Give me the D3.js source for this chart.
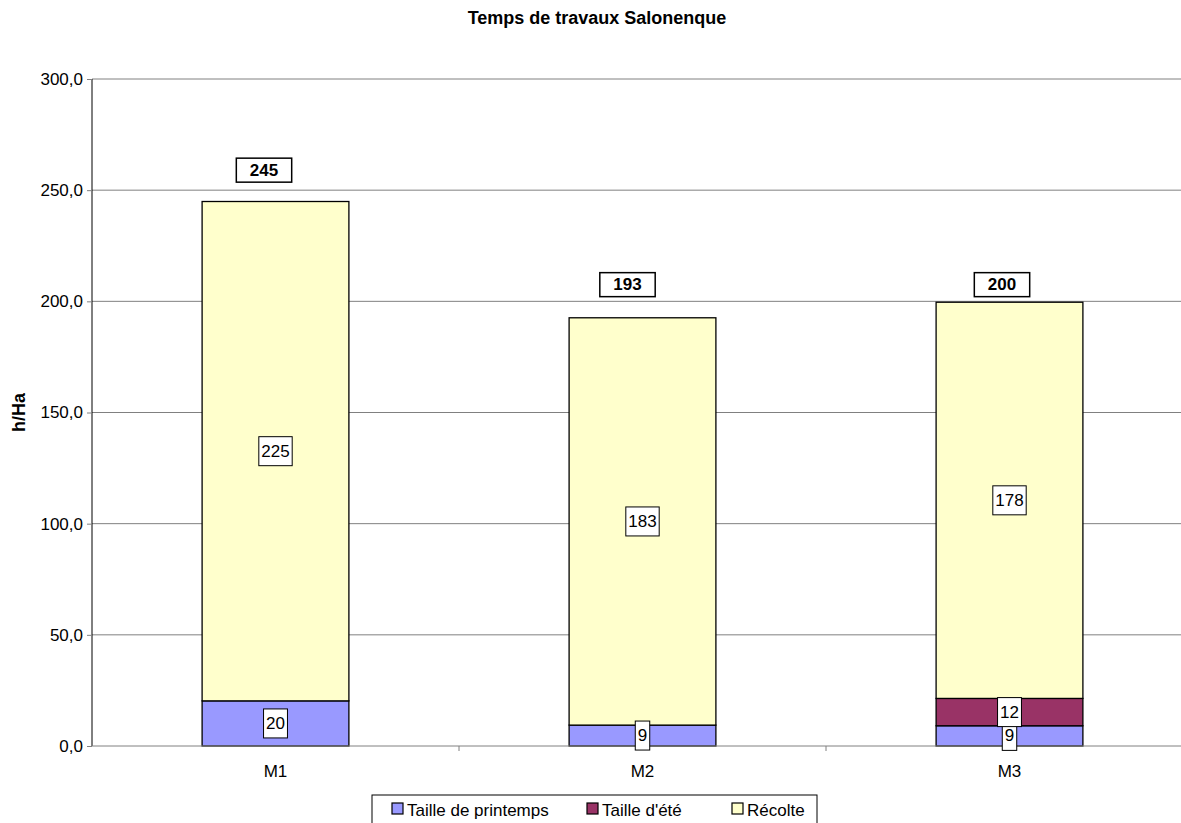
<!DOCTYPE html>
<html>
<head>
<meta charset="utf-8">
<script src="https://cdn.jsdelivr.net/npm/d3@7"></script>
<style>
  body { margin: 0; background: #fff; }
  svg { font-family: Arial, "Liberation Sans", sans-serif; }
</style>
</head>
<body>
<svg id="drawing_region"></svg>
<script>
// data
const categories = ['M1', 'M2', 'M3'];
const seriesNames = ['Taille de printemps', "Taille d'été", 'Récolte'];
const seriesColors = ['#9999FF', '#993366', '#FFFFCC'];
const printemps = [20.3, 9.4, 9.1];
const ete = [0, 0, 12.3];
const recolte = [224.6, 183.2, 178.2];
const yTicks = [0, 50, 100, 150, 200, 250, 300];

// where the total labels sit (value units) and their sideways shift (px)
const totalLabelAt = [259, 207.5, 207.5];
const totalLabelDx = [-11.5, -15, -7.5];

const width = 1181, height = 823;
const margin = {top: 79, left: 92};
const innerW = 1101, innerH = 667;

const svg = d3.select('#drawing_region')
    .attr('width', width)
    .attr('height', height);

const rows = categories.map((c, i) => ({
    cat: c,
    [seriesNames[0]]: printemps[i],
    [seriesNames[1]]: ete[i],
    [seriesNames[2]]: recolte[i]
}));

const stack = d3.stack().keys(seriesNames)(rows);

const xscale = d3.scaleBand()
    .domain(categories)
    .range([0, innerW])
    .paddingInner(0.6)
    .paddingOuter(0.3);

const yscale = d3.scaleLinear()
    .domain([0, 300])
    .range([innerH, 0]);

const chart = svg.append('g')
    .attr('transform', `translate(${margin.left}, ${margin.top})`);

// gridlines
chart.append('g')
    .selectAll('line')
    .data(yTicks.filter(d => d > 0))
    .join('line')
    .attr('x1', 0).attr('x2', innerW)
    .attr('y1', d => yscale(d)).attr('y2', d => yscale(d))
    .attr('stroke', '#808080')
    .attr('stroke-width', 1);

// bars
stack.forEach((layer, k) => {
    chart.append('g')
        .selectAll('rect')
        .data(layer.filter(d => d[1] - d[0] > 0))
        .join('rect')
        .attr('x', d => xscale(d.data.cat))
        .attr('y', d => yscale(d[1]))
        .attr('width', xscale.bandwidth())
        .attr('height', d => yscale(d[0]) - yscale(d[1]))
        .attr('fill', seriesColors[k])
        .attr('stroke', '#000')
        .attr('stroke-width', 1.3);
});

// y axis
const yaxis = d3.axisLeft(yscale)
    .tickValues(yTicks)
    .tickSize(5)
    .tickFormat(d => d3.format('.1f')(d).replace('.', ','));

const yg = chart.append('g').call(yaxis);
yg.select('.domain').attr('stroke', '#000').attr('d', `M0,0V${innerH}`);
yg.selectAll('.tick line').attr('stroke', '#808080');
yg.selectAll('.tick text')
    .attr('font-size', '17px')
    .attr('font-family', 'Arial, "Liberation Sans", sans-serif')
    .attr('fill', '#000')
    .attr('x', -9);

// x axis
const xg = chart.append('g')
    .attr('transform', `translate(0, ${innerH})`);
xg.append('line')
    .attr('x1', 0).attr('x2', innerW)
    .attr('stroke', '#808080');
const step = xscale.step();
xg.selectAll('.sep')
    .data(categories.slice(1))
    .join('line')
    .attr('class', 'sep')
    .attr('x1', (d, i) => step * (i + 1))
    .attr('x2', (d, i) => step * (i + 1))
    .attr('y1', 0).attr('y2', 5)
    .attr('stroke', '#808080');
xg.selectAll('text')
    .data(categories)
    .join('text')
    .attr('x', d => xscale(d) + xscale.bandwidth() / 2)
    .attr('y', 31)
    .attr('text-anchor', 'middle')
    .attr('font-size', '17px')
    .text(d => d);

// boxed labels
function boxLabel(g, cx, cy, txt, bold) {
    const t = g.append('text')
        .attr('x', cx).attr('y', cy)
        .attr('text-anchor', 'middle')
        .attr('dominant-baseline', 'central')
        .attr('font-size', '17px')
        .attr('font-weight', bold ? 'bold' : 'normal')
        .text(txt);
    const bb = t.node().getBBox();
    const padX = bold ? 13.5 : 2.5, padY = bold ? 2.5 : 5;
    g.insert('rect', () => t.node())
        .attr('x', bb.x - padX)
        .attr('y', bb.y - padY)
        .attr('width', bb.width + 2 * padX)
        .attr('height', bb.height + 2 * padY)
        .attr('fill', '#fff')
        .attr('stroke', '#000')
        .attr('stroke-width', bold ? 1.5 : 1);
}

const labels = chart.append('g');
stack.forEach(layer => {
    layer.forEach(d => {
        const v = d[1] - d[0];
        if (v <= 0) return;
        const cx = xscale(d.data.cat) + xscale.bandwidth() / 2;
        const cy = (yscale(d[0]) + yscale(d[1])) / 2;
        boxLabel(labels.append('g'), cx, cy, d3.format('.0f')(v), false);
    });
});

// totals
const totals = categories.map((c, i) => printemps[i] + ete[i] + recolte[i]);
totals.forEach((t, i) => {
    const cx = xscale(categories[i]) + xscale.bandwidth() / 2 + totalLabelDx[i];
    boxLabel(labels.append('g'), cx, yscale(totalLabelAt[i]), d3.format('.0f')(t), true);
});

// title
svg.append('text')
    .attr('x', 597)
    .attr('y', 24)
    .attr('text-anchor', 'middle')
    .attr('font-size', '18px')
    .attr('font-weight', 'bold')
    .text('Temps de travaux Salonenque');

// y label
svg.append('text')
    .attr('transform', `translate(25, ${margin.top + innerH / 2}) rotate(-90)`)
    .attr('text-anchor', 'middle')
    .attr('font-size', '18px')
    .attr('font-weight', 'bold')
    .text('h/Ha');

// legend
const legend = svg.append('g').attr('transform', 'translate(372, 795)');
legend.append('rect')
    .attr('x', 0).attr('y', 0)
    .attr('width', 445).attr('height', 40)
    .attr('fill', '#fff')
    .attr('stroke', '#000');
const legX = [20, 215, 360];
seriesNames.forEach((name, k) => {
    const g = legend.append('g').attr('transform', `translate(${legX[k]}, 0)`);
    g.append('rect')
        .attr('x', 0).attr('y', 8)
        .attr('width', 11).attr('height', 11)
        .attr('fill', seriesColors[k])
        .attr('stroke', '#000')
        .attr('stroke-width', 1.2);
    g.append('text')
        .attr('x', 15).attr('y', 21)
        .attr('font-size', '17px')
        .text(name);
});
</script>
</body>
</html>
